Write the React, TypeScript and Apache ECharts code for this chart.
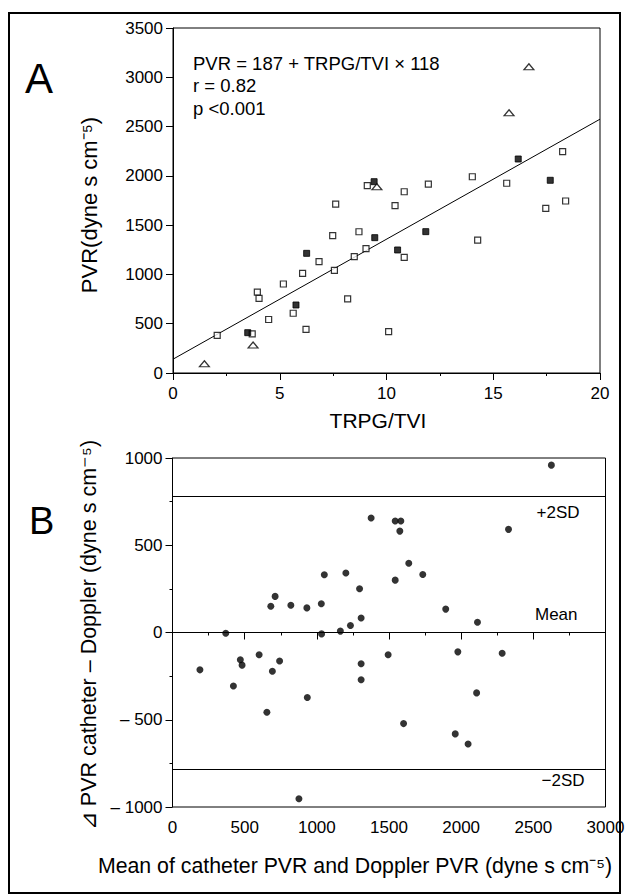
import React, { useEffect, useRef } from "react";
import * as echarts from "echarts";

// Panel A: TRPG/TVI vs PVR
const openSquares: number[][] = [
  [9.1, 1900], [7.62, 1714], [7.48, 1393], [8.71, 1433], [9.04, 1261], [8.49, 1180],
  [6.84, 1129], [6.07, 1011], [7.56, 1042], [5.17, 903], [3.95, 820], [4.03, 758],
  [8.18, 751], [5.63, 606], [4.48, 543], [6.23, 443], [2.07, 382], [3.71, 396],
  [10.1, 419], [10.83, 1839], [10.4, 1697], [14.27, 1349], [10.83, 1174], [17.46, 1671],
  [18.39, 1745], [18.25, 2245], [14.02, 1991], [15.63, 1925], [11.96, 1917],
];
const filledSquares: number[][] = [
  [9.42, 1941], [16.17, 2171], [17.67, 1955], [9.45, 1373], [6.26, 1214],
  [5.76, 690], [3.5, 409], [11.84, 1434], [10.52, 1248],
];
const triangles: number[][] = [
  [16.67, 3107], [15.74, 2641], [9.55, 1890], [3.75, 284], [1.47, 94],
];
const regressionLine: number[][] = [[0, 140], [20, 2575]];
const equationLines = ["PVR = 187 + TRPG/TVI × 118", "r = 0.82", "p <0.001"];

// Panel B: Bland-Altman
const blandPoints: number[][] = [
  [190, -214], [369, -4], [422, -307], [470, -156], [482, -187], [600, -127],
  [654, -457], [681, 150], [692, -222], [711, 207], [742, -163], [820, 156],
  [931, 141], [934, -372], [876, -953], [1031, 165], [1033, -8], [1052, 331],
  [1201, 341], [1163, 8], [1233, 40], [1296, 251], [1307, 83], [1307, -179],
  [1307, -271], [1376, 656], [1494, -127], [1543, 639], [1582, 639], [1575, 581],
  [1543, 300], [1601, -522], [1637, 397], [1734, 332], [1893, 134], [1977, -111],
  [1959, -581], [2048, -639], [2107, -346], [2113, 59], [2284, -119], [2328, 591],
  [2625, 959],
];
const sdUpper = 783;
const meanDiff = 0;
const sdLower = -783;
const refLabels = ["+2SD", "Mean", "\u22122SD"];

const FONT = "Liberation Sans, Arial, Helvetica, sans-serif";

export default function App() {
  const ref = useRef<HTMLDivElement>(null);
  useEffect(() => {
    if (!ref.current) return;
    const chart = echarts.init(ref.current, null, { renderer: "svg" });
    const black = "#000";
    const axisCommon = {
      axisLine: { show: true, lineStyle: { color: black, width: 1 } },
      axisTick: { show: true, length: 7, lineStyle: { color: black } },
      splitLine: { show: false },
      axisLabel: { color: black, fontSize: 17, fontFamily: FONT },
    };
    chart.setOption({
      animation: false,
      backgroundColor: "#fff",
      grid: [
        { left: 173, top: 28, width: 427, height: 345, show: true, borderColor: black, borderWidth: 1, backgroundColor: "transparent" },
        { left: 172.5, top: 458, width: 433, height: 349, show: true, borderColor: black, borderWidth: 1, backgroundColor: "transparent" },
      ],
      xAxis: [
        {
          ...axisCommon, type: "value", gridIndex: 0, min: 0, max: 20, interval: 5,
          minorTick: { show: true, splitNumber: 2, length: 3, lineStyle: { color: black } },
          axisLabel: { ...axisCommon.axisLabel, margin: 12, formatter: (v: number) => String(v) },
        },
        {
          ...axisCommon, type: "value", gridIndex: 1, min: 0, max: 3000, interval: 500,
          minorTick: { show: true, splitNumber: 2, length: 3, lineStyle: { color: black } },
          axisLabel: { ...axisCommon.axisLabel, margin: 12, formatter: (v: number) => String(v) },
        },
      ],
      yAxis: [
        {
          ...axisCommon, type: "value", gridIndex: 0, min: 0, max: 3500, interval: 500,
          axisLabel: { ...axisCommon.axisLabel, margin: 10, padding: [9, 0, 0, 0], formatter: (v: number) => String(v) },
        },
        {
          ...axisCommon, type: "value", gridIndex: 1, min: -1000, max: 1000, interval: 500,
          minorTick: { show: true, splitNumber: 2, length: 3, lineStyle: { color: black } },
          axisLabel: {
            ...axisCommon.axisLabel, margin: 10, padding: [9, 0, 0, 0],
            formatter: (v: number) => (v < 0 ? "\u2013 " + Math.abs(v) : String(v)),
          },
        },
      ],
      series: [
        {
          type: "line", xAxisIndex: 0, yAxisIndex: 0, data: regressionLine, showSymbol: false,
          lineStyle: { color: black, width: 1 }, silent: true, z: 1,
        },
        {
          type: "scatter", xAxisIndex: 0, yAxisIndex: 0, data: openSquares, symbol: "rect", symbolSize: 6,
          itemStyle: { color: "#fff", borderColor: black, borderWidth: 1.2 }, z: 3,
        },
        {
          type: "scatter", xAxisIndex: 0, yAxisIndex: 0, data: filledSquares, symbol: "rect", symbolSize: 6,
          itemStyle: { color: black, borderColor: black, borderWidth: 1 }, z: 4,
        },
        {
          type: "scatter", xAxisIndex: 0, yAxisIndex: 0, data: triangles, symbol: "triangle", symbolSize: [10, 6],
          itemStyle: { color: "#fff", borderColor: black, borderWidth: 1.2 }, z: 5,
        },
        {
          type: "scatter", xAxisIndex: 1, yAxisIndex: 1, data: blandPoints, symbol: "circle", symbolSize: 7,
          itemStyle: { color: black }, z: 3,
          markLine: {
            silent: true, symbol: "none",
            lineStyle: { color: black, width: 1, type: "solid" },
            label: { color: black, fontSize: 17, fontFamily: FONT, padding: [0, 18, 0, 0] },
            data: [
              { yAxis: sdUpper, label: { formatter: refLabels[0], position: "insideEndBottom", distance: 8 } },
              { yAxis: meanDiff, label: { formatter: refLabels[1], position: "insideEndTop", distance: 10 } },
              { yAxis: sdLower, label: { formatter: refLabels[2], position: "insideEndBottom", distance: 3 } },
            ],
          },
        },
      ],
      graphic: [
        { type: "rect", shape: { x: 9, y: 13, width: 611, height: 880 }, style: { fill: "none", stroke: black, lineWidth: 2 }, silent: true },
        { type: "text", x: 25, y: 78, style: { text: "A", fontSize: 42, fontFamily: FONT, fill: black, align: "left", verticalAlign: "middle" } },
        { type: "text", x: 29, y: 521, style: { text: "B", fontSize: 38, fontFamily: FONT, fill: black, align: "left", verticalAlign: "middle" } },
        ...equationLines.map((t, i) => ({
          type: "text", x: 193, y: 63 + i * 22.5,
          style: { text: t, fontSize: 18.5, fontFamily: FONT, fill: black, align: "left", verticalAlign: "middle" },
        })),
        { type: "text", x: 378, y: 420, style: { text: "TRPG/TVI", fontSize: 21, fontFamily: FONT, fill: black, align: "center", verticalAlign: "middle" } },
        { type: "text", x: 89, y: 205, rotation: Math.PI / 2, style: { text: "PVR(dyne s cm\u207B\u2075)", fontSize: 22, fontFamily: FONT, fill: black, align: "center", verticalAlign: "middle" } },
        { type: "text", x: 89, y: 635, rotation: Math.PI / 2, style: { text: "\u22BF PVR catheter \u2013 Doppler (dyne s cm\u207B\u2075)", fontSize: 21.5, fontFamily: FONT, fill: black, align: "center", verticalAlign: "middle" } },
        { type: "text", x: 355, y: 866, style: { text: "Mean of catheter PVR and Doppler PVR (dyne s cm\u207B\u2075)", fontSize: 21.3, fontFamily: FONT, fill: black, align: "center", verticalAlign: "middle" } },
      ],
    });
    return () => chart.dispose();
  }, []);
  return (
    <div
      ref={ref}
      style={{ position: "fixed", left: 0, top: 0, width: 629, height: 896, background: "#fff" }}
    />
  );
}
